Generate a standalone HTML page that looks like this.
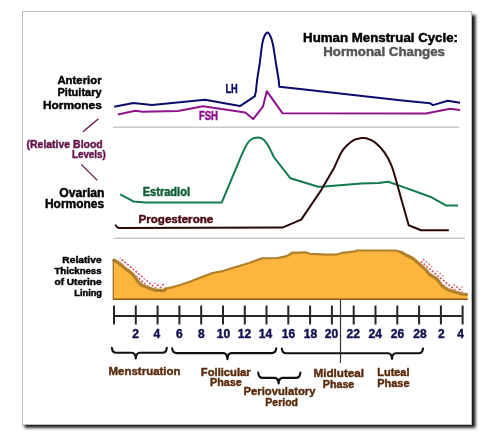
<!DOCTYPE html>
<html><head><meta charset="utf-8">
<style>
html,body{margin:0;padding:0;background:#fff;width:494px;height:446px;overflow:hidden}
svg{display:block;will-change:transform}

text{font-family:"Liberation Sans",sans-serif;font-weight:bold;stroke-width:0.45px;stroke-linejoin:round}
</style></head><body>
<svg width="494" height="446" viewBox="0 0 494 446">
<defs>
<filter id="sh" x="-5%" y="-5%" width="115%" height="115%"><feGaussianBlur stdDeviation="1.8"/></filter>
<pattern id="dots" width="3.6" height="3.6" patternUnits="userSpaceOnUse" patternTransform="rotate(40)"><circle cx="1.8" cy="1.8" r="1.2" fill="#f6dade"/><circle cx="1.8" cy="1.8" r="0.9" fill="#c02838"/></pattern>
</defs>
<!-- frame shadow -->
<rect x="24.5" y="15" width="451" height="412.8" fill="#141414" filter="url(#sh)"/>
<rect x="22.5" y="11.5" width="449" height="413" fill="#fff" stroke="#bdbdbd" stroke-width="1"/>

<!-- title -->

<!-- left labels -->
<line x1="98.5" y1="118.7" x2="83" y2="131.8" stroke="#62124a" stroke-width="1.3"/>
<line x1="81.2" y1="164.4" x2="97.3" y2="180.4" stroke="#62124a" stroke-width="1.3"/>

<!-- dividers -->
<line x1="113" y1="127.2" x2="459.5" y2="127.2" stroke="#c8c8c8" stroke-width="1.4"/>
<line x1="113.5" y1="238.2" x2="465" y2="238.2" stroke="#c8c8c8" stroke-width="1.4"/>

<path d="M114.20,106.70 L133.40,102.90 L152.00,105.00 L205.00,99.70 L239.90,106.10 L254.70,96.40 L255.90,91.50 L257.10,80.00 L259.80,63.00 C260.22,59.78 261.50,48.23 262.30,43.70 C263.10,39.17 263.70,37.65 264.60,35.80 C265.50,33.95 266.77,32.60 267.70,32.60 C268.63,32.60 269.35,33.95 270.20,35.80 C271.05,37.65 271.85,39.17 272.80,43.70 C273.75,48.23 275.38,59.78 275.90,63.00 L278.70,80.00 L279.30,86.70 L300.00,89.10 L400.00,100.20 L430.00,103.20 L432.90,105.10 L447.80,100.70 L460.00,102.70" fill="none" stroke="#0c0c6c" stroke-width="2.0" stroke-linejoin="round"/>
<path d="M117.80,114.40 L135.40,110.80 L142.50,111.80 L178.00,111.00 L203.00,106.20 L245.30,112.60 L253.20,119.10 L262.90,106.70 L266.80,91.20 L282.40,113.20 L426.00,113.50 L450.00,108.80 L460.00,110.00" fill="none" stroke="#8e148e" stroke-width="2.0" stroke-linejoin="round"/>
<path d="M120.20,194.30 L133.40,201.40 L145.50,202.50 L221.70,202.60 L241.90,154.40 C242.73,152.72 245.38,146.78 246.90,144.30 C248.42,141.82 249.17,140.62 251.00,139.50 C252.83,138.38 255.82,137.60 257.90,137.60 C259.98,137.60 261.68,137.97 263.50,139.50 C265.32,141.03 267.08,143.88 268.80,146.80 C270.52,149.72 272.97,155.30 273.80,157.00 L290.50,178.30 L318.10,186.80 L324.50,186.50 L361.20,183.60 L378.80,182.90 L388.20,181.80 L396.50,184.60 L431.60,197.30 L445.80,205.40 L458.00,205.40" fill="none" stroke="#107a4c" stroke-width="2.0" stroke-linejoin="round"/>
<path d="M115.20,224.70 C115.58,225.13 116.67,226.75 117.50,227.30 C118.33,227.85 119.75,227.88 120.20,228.00 L282.40,227.60 L301.20,219.60 L321.20,190.10 L334.20,167.70 C335.38,165.15 339.15,156.13 341.30,152.40 C343.45,148.67 344.97,147.40 347.10,145.30 C349.23,143.20 351.82,141.00 354.10,139.80 C356.38,138.60 358.77,138.35 360.80,138.10 C362.83,137.85 363.93,137.58 366.30,138.30 C368.67,139.02 372.02,140.08 375.00,142.40 C377.98,144.72 381.47,148.38 384.20,152.20 C386.93,156.02 389.35,160.37 391.40,165.30 C393.45,170.23 395.65,179.05 396.50,181.80 L402.40,202.90 L408.70,225.30 L421.00,230.30 L448.80,230.30" fill="none" stroke="#2a0808" stroke-width="2.0" stroke-linejoin="round"/>
<clipPath id="bandL"><polygon points="118.0,260.6 122.0,263.7 126.0,267.1 131.0,270.6 133.9,273.2 136.8,277.0 139.4,281.0 142.6,283.8 148.7,286.4 155.8,288.6 163.8,289.1 164.1,283.7 156.7,283.3 150.6,281.3 145.4,279.2 143.5,277.4 141.2,273.8 137.9,269.6 134.3,266.3 129.3,262.9 125.4,259.5 121.2,256.3"/></clipPath>
<clipPath id="bandR"><polygon points="419.9,262.4 427.0,268.8 430.6,273.2 434.9,275.9 438.5,278.3 442.9,284.5 448.1,288.1 454.6,290.3 462.4,292.5 463.9,287.3 456.2,285.1 450.6,283.2 446.7,280.7 442.4,274.6 437.8,271.3 434.2,269.2 430.9,265.0 423.4,258.4"/></clipPath>
<rect x="110" y="248" width="60" height="47" fill="url(#dots)" clip-path="url(#bandL)"/>
<rect x="410" y="250" width="60" height="50" fill="url(#dots)" clip-path="url(#bandR)"/>
<path d="M113.20,259.60 L117.00,261.90 L121.00,264.90 L125.00,268.40 L130.00,271.90 L132.70,274.30 L135.50,277.90 L138.20,282.00 L141.80,285.20 L148.20,287.90 L155.50,290.20 L163.70,290.70 L166.40,288.30 L171.90,287.30 L179.90,285.00 L189.80,281.80 L201.20,277.20 L212.50,273.00 L223.80,270.80 L232.30,268.00 L249.20,263.00 L261.90,258.40 L277.50,258.00 L284.60,256.60 L288.80,255.20 L291.70,252.80 L305.70,252.30 L309.90,253.80 L326.90,254.60 L336.80,254.50 L342.50,252.80 L355.30,251.40 L356.70,250.50 L395.50,250.50 L400.40,251.90 L407.50,255.80 L413.20,258.60 L418.80,263.60 L425.90,269.90 L429.50,274.40 L434.00,277.20 L437.30,279.40 L441.80,285.60 L447.40,289.50 L454.10,291.80 L462.00,294.00 L467.60,294.50 L467.6,299.5 L113.2,299.5 Z" fill="#fcb63e"/>
<path d="M113.20,259.60 L117.00,261.90 L121.00,264.90 L125.00,268.40 L130.00,271.90 L132.70,274.30 L135.50,277.90 L138.20,282.00 L141.80,285.20 L148.20,287.90 L155.50,290.20 L163.70,290.70 L166.40,288.30 L171.90,287.30 L179.90,285.00 L189.80,281.80 L201.20,277.20 L212.50,273.00 L223.80,270.80 L232.30,268.00 L249.20,263.00 L261.90,258.40 L277.50,258.00 L284.60,256.60 L288.80,255.20 L291.70,252.80 L305.70,252.30 L309.90,253.80 L326.90,254.60 L336.80,254.50 L342.50,252.80 L355.30,251.40 L356.70,250.50 L395.50,250.50 L400.40,251.90 L407.50,255.80 L413.20,258.60 L418.80,263.60 L425.90,269.90 L429.50,274.40 L434.00,277.20 L437.30,279.40 L441.80,285.60 L447.40,289.50 L454.10,291.80 L462.00,294.00 L467.60,294.50" fill="none" stroke="#b08028" stroke-width="2.2" stroke-linejoin="round"/>
<path d="M113.20,259.60 L117.00,261.90 L121.00,264.90 L125.00,268.40 L130.00,271.90 L132.70,274.30 L135.50,277.90 L138.20,282.00 L141.80,285.20 L148.20,287.90 L155.50,290.20 L163.70,290.70 L166.40,288.30" fill="none" stroke="#b08028" stroke-width="3.2" stroke-linejoin="round"/>
<path d="M400.40,251.90 L407.50,255.80 L413.20,258.60 L418.80,263.60 L425.90,269.90 L429.50,274.40 L434.00,277.20 L437.30,279.40 L441.80,285.60 L447.40,289.50 L454.10,291.80 L462.00,294.00 L467.60,294.50" fill="none" stroke="#b08028" stroke-width="3.2" stroke-linejoin="round"/>
<line x1="113.2" y1="259" x2="113.2" y2="299.5" stroke="#7a5418" stroke-width="1"/>
<line x1="113" y1="299.3" x2="467.6" y2="299.3" stroke="#8a5a14" stroke-width="1.4"/>
<!-- axis -->
<g stroke="#262626" stroke-width="2">
<line x1="114" y1="316" x2="462.6" y2="316"/>
<path d="M114,305.5V324.4 M135.8,305.5V324.4 M157.6,305.5V324.4 M179.4,305.5V324.4 M201.2,305.5V324.4 M223,305.5V324.4 M244.8,305.5V324.4 M266.5,305.5V324.4 M288.3,305.5V324.4 M310.1,305.5V324.4 M331.9,305.5V324.4 M353.7,305.5V324.4 M375.5,305.5V324.4 M397.3,305.5V324.4 M419.1,305.5V324.4 M440.9,305.5V324.4 M462.6,305.5V324.4"/>
</g>
<line x1="340.5" y1="300" x2="340.5" y2="363" stroke="#333" stroke-width="1.2"/>

<!-- braces -->
<g fill="none" stroke="#111" stroke-width="2.1" stroke-linecap="round" stroke-linejoin="round">
<path d="M111.9,347.9 C112.2,351.3 113.4,352.8 116.4,352.8 L131.8,352.8 C134.3,352.8 135.5,354.3 135.8,358.4 C136.10000000000002,354.3 137.3,352.8 139.8,352.8 L162.3,352.8 C165.3,352.8 166.5,351.3 166.8,347.9"/>
<path d="M172.2,348.4 C172.5,351.6 173.7,353.1 176.7,353.1 L223.4,353.1 C225.9,353.1 227.1,354.6 227.4,359.2 C227.70000000000002,354.6 228.9,353.1 231.4,353.1 L271.7,353.1 C274.7,353.1 275.9,351.6 276.2,348.4"/>
<path d="M258.2,372.6 C258.5,376.4 259.7,377.9 262.7,377.9 L274.6,377.9 C277.1,377.9 278.3,379.4 278.6,383.4 C278.90000000000003,379.4 280.1,377.9 282.6,377.9 L295.9,377.9 C298.9,377.9 300.09999999999997,376.4 300.4,372.6"/>
<path d="M281.8,348.6 C282.1,351.8 283.3,353.3 286.3,353.3 L388,353.3 C390.5,353.3 391.7,354.8 392,358.8 C392.3,354.8 393.5,353.3 396,353.3 L418.5,353.3 C421.5,353.3 422.7,351.8 423,348.6"/>
</g>

<!-- phase labels -->
<text x="303.10" y="41.9" font-size="12.3" fill="#000" stroke="#000" textLength="154.90" lengthAdjust="spacingAndGlyphs">Human Menstrual Cycle:</text>
<text x="323.19" y="55.5" font-size="12" fill="#56565a" stroke="#56565a" textLength="121.73" lengthAdjust="spacingAndGlyphs">Hormonal Changes</text>
<text x="57.42" y="83.9" font-size="11.5" fill="#000" stroke="#000" textLength="44.21" lengthAdjust="spacingAndGlyphs">Anterior</text>
<text x="57.50" y="96.4" font-size="11.5" fill="#000" stroke="#000" textLength="44.17" lengthAdjust="spacingAndGlyphs">Pituitary</text>
<text x="42.99" y="109.2" font-size="11.5" fill="#000" stroke="#000" textLength="58.87" lengthAdjust="spacingAndGlyphs">Hormones</text>
<text x="59.29" y="197.3" font-size="12" fill="#000" stroke="#000" textLength="45.25" lengthAdjust="spacingAndGlyphs">Ovarian</text>
<text x="44.98" y="208.4" font-size="12" fill="#000" stroke="#000" textLength="59.19" lengthAdjust="spacingAndGlyphs">Hormones</text>
<text x="26.50" y="147.8" font-size="11.5" fill="#62124a" stroke="#62124a" textLength="76.25" lengthAdjust="spacingAndGlyphs">(Relative Blood</text>
<text x="71.94" y="157.5" font-size="11.5" fill="#62124a" stroke="#62124a" textLength="33.82" lengthAdjust="spacingAndGlyphs">Levels)</text>
<text x="62.33" y="262.5" font-size="9.5" fill="#000" stroke="#000" textLength="39.25" lengthAdjust="spacingAndGlyphs">Relative</text>
<text x="54.48" y="273.6" font-size="9.5" fill="#000" stroke="#000" textLength="47.12" lengthAdjust="spacingAndGlyphs">Thickness</text>
<text x="54.49" y="284.6" font-size="9.5" fill="#000" stroke="#000" textLength="47.03" lengthAdjust="spacingAndGlyphs">of Uterine</text>
<text x="74.34" y="295.8" font-size="9.5" fill="#000" stroke="#000" textLength="27.66" lengthAdjust="spacingAndGlyphs">Lining</text>
<text x="225.45" y="92.8" font-size="12.5" fill="#0a0a64" stroke="#0a0a64" textLength="12.34" lengthAdjust="spacingAndGlyphs">LH</text>
<text x="198.88" y="119.8" font-size="12" fill="#8c0c8c" stroke="#8c0c8c" textLength="19.15" lengthAdjust="spacingAndGlyphs">FSH</text>
<text x="142.68" y="195.6" font-size="12" fill="#0c5c34" stroke="#0c5c34" textLength="47.32" lengthAdjust="spacingAndGlyphs">Estradiol</text>
<text x="138.49" y="222.9" font-size="11.2" fill="#4c0810" stroke="#4c0810" textLength="74.78" lengthAdjust="spacingAndGlyphs">Progesterone</text>
<text x="108.58" y="374.8" font-size="11.5" fill="#5a2c0e" stroke="#5a2c0e" textLength="71.93" lengthAdjust="spacingAndGlyphs">Menstruation</text>
<text x="200.80" y="375.5" font-size="11.5" fill="#5a2c0e" stroke="#5a2c0e" textLength="49.90" lengthAdjust="spacingAndGlyphs">Follicular</text>
<text x="209.97" y="386" font-size="11.5" fill="#5a2c0e" stroke="#5a2c0e" textLength="31.70" lengthAdjust="spacingAndGlyphs">Phase</text>
<text x="243.50" y="395.3" font-size="11.5" fill="#5a2c0e" stroke="#5a2c0e" textLength="71.94" lengthAdjust="spacingAndGlyphs">Periovulatory</text>
<text x="265.29" y="406.3" font-size="11.5" fill="#5a2c0e" stroke="#5a2c0e" textLength="32.70" lengthAdjust="spacingAndGlyphs">Period</text>
<text x="313.50" y="376.8" font-size="11.5" fill="#5a2c0e" stroke="#5a2c0e" textLength="50.51" lengthAdjust="spacingAndGlyphs">Midluteal</text>
<text x="322.80" y="387.9" font-size="11.5" fill="#5a2c0e" stroke="#5a2c0e" textLength="31.51" lengthAdjust="spacingAndGlyphs">Phase</text>
<text x="377.29" y="375.7" font-size="11.5" fill="#5a2c0e" stroke="#5a2c0e" textLength="32.22" lengthAdjust="spacingAndGlyphs">Luteal</text>
<text x="377.29" y="386.8" font-size="11.5" fill="#5a2c0e" stroke="#5a2c0e" textLength="32.22" lengthAdjust="spacingAndGlyphs">Phase</text>
<g fill="#121250" stroke="#121250" font-size="12" text-anchor="middle">
<text x="135.5" y="337.9">2</text>
<text x="156.8" y="337.9">4</text>
<text x="179.4" y="337.9">6</text>
<text x="201.3" y="337.9">8</text>
<text x="223.5" y="337.9">10</text>
<text x="244.4" y="337.9">12</text>
<text x="265.4" y="337.9">14</text>
<text x="288.5" y="337.9">16</text>
<text x="310.4" y="337.9">18</text>
<text x="331.5" y="337.9">20</text>
<text x="353.3" y="337.9">22</text>
<text x="375.3" y="337.9">24</text>
<text x="397.5" y="337.9">26</text>
<text x="420.0" y="337.9">28</text>
<text x="441.4" y="337.9">2</text>
<text x="460.7" y="337.9">4</text>
</g>
</svg>
</body></html>
